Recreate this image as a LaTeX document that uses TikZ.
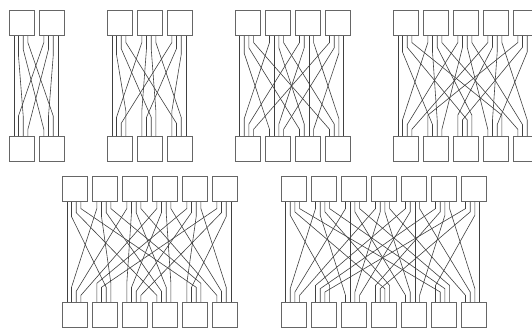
\documentclass[tikz,border=0pt]{standalone}
\usetikzlibrary{calc}
\tikzset{
  switch/.style={draw=black!60, line width=0.9pt, minimum width=25pt, minimum height=25pt, inner sep=0pt, anchor=north west},
  wire/.style={draw=black!75, line width=0.6pt},
}
% #1 boxes, #2 left x, #3 top y, #4 name prefix, #5 stub step
\newcommand{\shufflenet}[5]{%
  \pgfmathtruncatemacro\nlast{#1-1}
  \foreach \i in {0,...,\nlast} {
    \node[switch] (#4t\i) at ({#2+30*\i},#3) {};
    \node[switch] (#4b\i) at ({#2+30*\i},{#3+126}) {};
    \foreach \k in {0,...,3} {
      \pgfmathsetmacro\po{{4.5,9.2,13.9,18.6}[\k]}
      \coordinate (#4tp\i-\k) at ($(#4t\i.south west)+(\po,0)$);
      \coordinate (#4bp\i-\k) at ($(#4b\i.north west)+(\po,0)$);
    }
  }
  \foreach \i in {0,...,\nlast} {
    \foreach \k in {0,...,3} {
      \pgfmathtruncatemacro\h{#1*\k+\i}
      \pgfmathtruncatemacro\j{int(\h/4)}
      \pgfmathtruncatemacro\m{mod(\h,4)}
      \pgfmathsetmacro\sx{30*\i+4.7*\k}
      \pgfmathsetmacro\tx{30*\j+4.7*\m}
      \pgfmathsetmacro\sa{6.7+#5*(\tx>\sx ? 3-\k : \k)}
      \pgfmathsetmacro\sb{6.7+#5*(\sx>\tx ? 3-\m : \m)}
      \draw[wire] (#4tp\i-\k) -- ++(0,\sa) -- ($(#4bp\j-\m)+(0,-\sb)$) -- (#4bp\j-\m);
    }
  }
}

\begin{document}
\begin{tikzpicture}[x=1pt, y=-1pt]
  \useasboundingbox (0,0) rectangle (532,327);
  \clip (0,0) rectangle (532,327);
  % upper row
  \shufflenet{2}{9.3}{10}{A}{6.7}
  \shufflenet{3}{107.3}{10}{B}{6}
  \shufflenet{4}{235}{10}{C}{5.3}
  \shufflenet{5}{393.3}{10}{D}{4.7}
  % lower row
  \shufflenet{6}{62.3}{176}{E}{4}
  \shufflenet{7}{281}{176}{F}{3.3}
\end{tikzpicture}
\end{document}
